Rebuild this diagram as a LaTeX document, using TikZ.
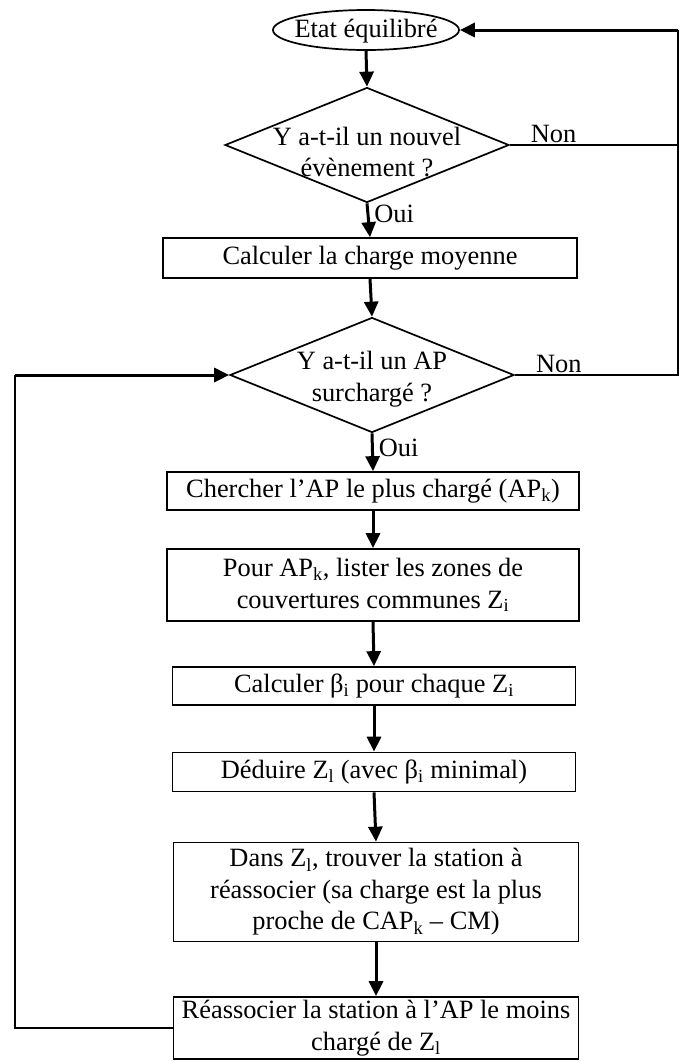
\documentclass[tikz,border=0pt]{standalone}
\usepackage{fontspec}
\setmainfont{Liberation Serif}
\usetikzlibrary{shapes.geometric,arrows.meta}

\begin{document}
\begin{tikzpicture}
  [x=1pt,y=-1pt,
   every node/.style={font=\fontsize{26.4}{31.5}\selectfont, inner sep=0pt, align=center},
   boite/.style={rectangle, draw, line width=1.7pt},
   decision/.style={diamond, draw, line width=1.7pt, minimum width=284pt, minimum height=115pt},
   debut/.style={ellipse, draw, line width=1.7pt, minimum width=186pt, minimum height=40pt},
   fleche/.style={line width=3pt, -{Triangle[length=15pt,width=14pt]}},
   trait/.style={line width=1.3pt}]
  \useasboundingbox (0,0) rectangle (680,1061);

  \node[debut] (etat) at (366,30) {};
  \node (tetat) at (366,31) {Etat équilibré};
  \node[decision] (q1) at (367,145) {};
  \node (tq1) at (367,152) {Y a-t-il un nouvel\\évènement ?};
  \node[boite, minimum width=414pt, minimum height=40pt] (b1) at (370,258) {Calculer la charge moyenne};
  \node[decision] (q2) at (372,375) {};
  \node (tq2) at (372,379) {Y a-t-il un AP\\surchargé ?};
  \node[boite, minimum width=412pt, minimum height=38pt] (b2) at (373,491) {Chercher l’AP le plus chargé (AP\textsubscript{k})};
  \node[boite, minimum width=412pt, minimum height=72pt] (b3) at (373,585) {Pour AP\textsubscript{k}, lister les zones de\\couvertures communes Z\textsubscript{i}};
  \node[boite, minimum width=403pt, minimum height=38pt] (b4) at (374,686) {Calculer β\textsubscript{i} pour chaque Z\textsubscript{i}};
  \node[boite, minimum width=403pt, minimum height=39pt] (b5) at (374,772) {Déduire Z\textsubscript{l} (avec β\textsubscript{i} minimal)};
  \node[boite, minimum width=405pt, minimum height=99pt] (b6) at (376,892) {Dans Z\textsubscript{l}, trouver la station à\\réassocier (sa charge est la plus\\proche de CAP\textsubscript{k} -- CM)};
  \node[boite, minimum width=405pt, minimum height=62pt] (b7) at (376,1028) {Réassocier la station à l’AP le moins\\chargé de Z\textsubscript{l}};

  \coordinate (droite) at (678,0);
  \coordinate (gauche) at (15,0);

  \foreach \de/\vers in {etat/q1,b1/q2,b2/b3,b3/b4,b4/b5,b5/b6,b6/b7}
    \draw[fleche] (\de.south) -- (\vers.north);
  \draw[fleche] (q1.south) -- node[pos=0.3, right=5pt] {Oui} (b1.north);
  \draw[fleche] (q2.south) -- node[pos=0.38, right=5pt] {Oui} (b2.north);

  % branches Non
  \draw[trait] (q1.east) -- node[pos=0.26, above=2pt] {Non} (q1.east -| droite);
  \draw[trait] (q2.east) -- node[pos=0.27, above=2pt] {Non} (q2.east -| droite) -- (etat.east -| droite);
  \draw[fleche] (etat.east -| droite) -- (etat.east);

  % boucle
  \draw[trait] (b7.west) -- (b7.west -| gauche) -- (q2.west -| gauche);
  \draw[fleche] (q2.west -| gauche) -- (q2.west);
\end{tikzpicture}
\end{document}
